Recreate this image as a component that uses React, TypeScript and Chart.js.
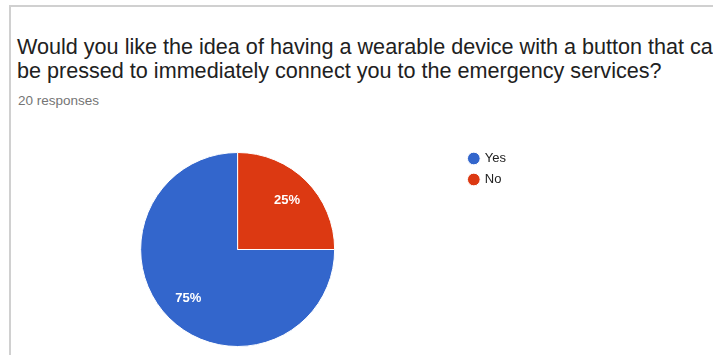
import React, { useEffect, useRef } from "react";
import { Chart, registerables } from "chart.js";

Chart.register(...registerables);

const titleLines = [
  "Would you like the idea of having a wearable device with a button that can",
  "be pressed to immediately connect you to the emergency services?",
];
const responsesText = "20 responses";
const categories = ["Yes", "No"];
const counts = [15, 5];
const colors = ["#3366CC", "#DC3912"];

const FONT = "'Liberation Sans', Arial, Helvetica, sans-serif";

const sliceLabels = {
  id: "sliceLabels",
  afterDatasetsDraw(chart: any) {
    const { ctx } = chart;
    const meta = chart.getDatasetMeta(0);
    const data = chart.data.datasets[0].data as number[];
    const total = data.reduce((a, b) => a + b, 0);
    ctx.save();
    ctx.fillStyle = "#ffffff";
    ctx.font = `bold 13px ${FONT}`;
    ctx.textAlign = "center";
    ctx.textBaseline = "middle";
    meta.data.forEach((arc: any, i: number) => {
      const p = arc.getProps(["x", "y", "startAngle", "endAngle", "outerRadius"], true);
      const mid = (p.startAngle + p.endAngle) / 2;
      const r = p.outerRadius * 0.72;
      const pct = Math.round((data[i] / total) * 100) + "%";
      ctx.fillText(pct, p.x + Math.cos(mid) * r, p.y + Math.sin(mid) * r);
    });
    ctx.restore();
  },
};

export default function App() {
  const ref = useRef<HTMLCanvasElement | null>(null);
  useEffect(() => {
    if (!ref.current) return;
    const chart = new Chart(ref.current, {
      type: "pie",
      data: {
        labels: categories,
        datasets: [
          {
            data: counts,
            backgroundColor: colors,
            borderColor: "#ffffff",
            borderWidth: 1,
            radius: 97,
          },
        ],
      },
      options: {
        animation: false,
        responsive: false,
        maintainAspectRatio: false,
        rotation: 90,
        layout: { padding: { left: 14, right: 0, top: 0, bottom: 0 } },
        plugins: {
          legend: {
            position: "right",
            align: "start",
            labels: {
              usePointStyle: true,
              pointStyle: "circle",
              boxWidth: 9,
              boxHeight: 9,
              padding: 8,
              color: "#222222",
              font: { size: 13, family: FONT },
            },
          },
          tooltip: { enabled: false },
        },
      },
      plugins: [sliceLabels],
    });
    return () => chart.destroy();
  }, []);

  return (
    <div
      style={{
        position: "fixed",
        left: 0,
        top: 0,
        width: 713,
        height: 355,
        overflow: "hidden",
        background: "#ffffff",
        fontFamily: FONT,
      }}
    >
      <div
        style={{
          position: "absolute",
          left: 9,
          top: 5,
          width: 800,
          height: 400,
          borderLeft: "2px solid #d0d0d0",
          borderTop: "2px solid #d0d0d0",
        }}
      />
      <div
        style={{
          position: "absolute",
          left: 17,
          top: 35,
          fontSize: 21.6,
          lineHeight: "24px",
          color: "#212121",
          whiteSpace: "nowrap",
        }}
      >
        <div>{titleLines[0]}</div>
        <div>{titleLines[1]}</div>
      </div>
      <div
        style={{
          position: "absolute",
          left: 18,
          top: 93,
          fontSize: 13.5,
          lineHeight: "16px",
          color: "#757575",
          whiteSpace: "nowrap",
        }}
      >
        {responsesText}
      </div>
      <canvas
        ref={ref}
        width={516}
        height={211}
        style={{ position: "absolute", left: 0, top: 144, width: 516, height: 211 }}
      />
    </div>
  );
}
